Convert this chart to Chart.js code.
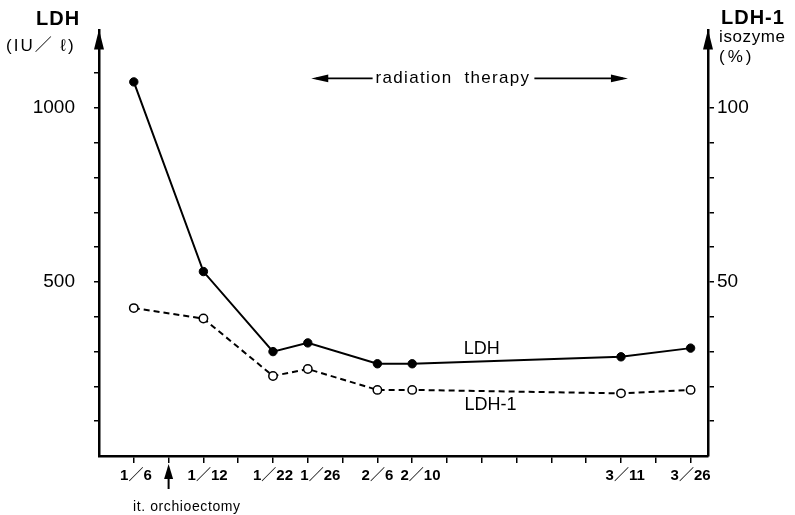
<!DOCTYPE html>
<html>
<head>
<meta charset="utf-8">
<script src="https://cdn.jsdelivr.net/npm/chart.js@4"></script>
<style>
html,body{margin:0;padding:0;background:#fff;}
#wrap{width:795px;height:515px;}
</style>
</head>
<body>
<div id="wrap"><canvas id="c" width="795" height="515"></canvas></div>
<script>
// ---- data ----
const dates    = ['1/6','1/12','1/22','1/26','2/6','2/10','3/11','3/26'];
const datePos  = [1, 3, 5, 6, 8, 9, 15, 17];          // position on the time axis (tick index)
const ldh      = [1075, 530, 300, 325, 265, 265, 285, 310];   // IU/l
const ldh1     = [42.5, 39.5, 23, 25, 19, 19, 18, 19];         // %
const ldhTickLabels  = [500, 1000];
const ldh1TickLabels = [50, 100];
const orchiectomyPos = 2;
const radiationFrom = 6.1, radiationTo = 15.2;

const FONT = '"Liberation Sans", "Noto Sans CJK JP", sans-serif';
const toWide = s => s.replace('/', '\uFF0F');
// leading spaces nudge crowded labels to the right, as in the original print
const labelNudge = {1: 1, 3: 2, 6: 6, 9: 4, 15: 2, 17: 0};

const ldhPts  = datePos.map((x, i) => ({x, y: ldh[i]}));
const ldh1Pts = datePos.map((x, i) => ({x, y: ldh1[i]}));

function arrowHead(ctx, x, y, dir, len, half) {
  ctx.beginPath();
  if (dir === 'up') { ctx.moveTo(x, y); ctx.lineTo(x - half, y + len); ctx.lineTo(x + half, y + len); }
  else if (dir === 'left') { ctx.moveTo(x, y); ctx.lineTo(x + len, y - half); ctx.lineTo(x + len, y + half); }
  else { ctx.moveTo(x, y); ctx.lineTo(x - len, y - half); ctx.lineTo(x - len, y + half); }
  ctx.closePath();
  ctx.fill();
}

const annot = {
  id: 'annot',
  afterDraw(chart) {
    const ctx = chart.ctx, a = chart.chartArea;
    const sx = chart.scales.x, sy = chart.scales.y, sy1 = chart.scales.y1;
    ctx.save();
    ctx.fillStyle = '#000'; ctx.strokeStyle = '#000';
    // axis arrowheads
    arrowHead(ctx, a.left, a.top - 1, 'up', 20, 5);
    arrowHead(ctx, a.right, a.top - 1, 'up', 20, 5);

    // axis titles
    ctx.textBaseline = 'middle';
    ctx.textAlign = 'left';
    ctx.font = 'bold 20px ' + FONT;
    ctx.letterSpacing = '1px';
    ctx.fillText('LDH', 36, 19);
    ctx.fillText('LDH-1', 721, 18);
    ctx.font = '17px ' + FONT;
    ctx.letterSpacing = '2px';
    ctx.fillText('(IU\uFF0F \u2113)', 6, 46);
    ctx.letterSpacing = '0.6px';
    ctx.fillText('isozyme', 719, 37);
    ctx.letterSpacing = '3px';
    ctx.fillText('(%)', 719, 57);

    // radiation therapy arrow
    const rx0 = sx.getPixelForValue(radiationFrom), rx1 = sx.getPixelForValue(radiationTo);
    const ry = sy.getPixelForValue(1085);
    ctx.font = '17px ' + FONT;
    ctx.letterSpacing = '1.3px';
    const txt = 'radiation  therapy';
    const tw = ctx.measureText(txt).width;
    const tc = 453;
    ctx.textAlign = 'center';
    ctx.fillText(txt, tc, ry);
    ctx.letterSpacing = '0px';
    ctx.lineWidth = 1.6;
    ctx.beginPath();
    ctx.moveTo(rx0 + 5, ry); ctx.lineTo(tc - tw / 2 - 3, ry);
    ctx.moveTo(tc + tw / 2 + 4, ry); ctx.lineTo(rx1 - 5, ry);
    ctx.stroke();
    arrowHead(ctx, rx0, ry, 'left', 17, 3.8);
    arrowHead(ctx, rx1, ry, 'right', 17, 3.8);

    // series labels
    ctx.font = '18px ' + FONT;
    ctx.textAlign = 'center';
    ctx.fillText('LDH', sx.getPixelForValue(11.0), sy.getPixelForValue(306));
    ctx.fillText('LDH-1', sx.getPixelForValue(11.25), sy1.getPixelForValue(14.7));

    // orchiectomy arrow
    const ox = sx.getPixelForValue(orchiectomyPos);
    ctx.lineWidth = 2;
    ctx.beginPath(); ctx.moveTo(ox, a.bottom + 20); ctx.lineTo(ox, a.bottom + 33); ctx.stroke();
    arrowHead(ctx, ox, a.bottom + 8, 'up', 15, 4.5);
    ctx.font = '14px ' + FONT;
    ctx.letterSpacing = '0.6px';
    ctx.textAlign = 'left';
    ctx.fillText('it. orchioectomy', 133, 507);
    ctx.restore();
  }
};

new Chart(document.getElementById('c'), {
  type: 'line',
  data: {
    datasets: [
      {
        label: 'LDH', data: ldhPts, yAxisID: 'y',
        borderColor: '#000', borderWidth: 2, backgroundColor: '#000',
        pointRadius: 4.2, pointBackgroundColor: '#000', pointBorderColor: '#000', pointBorderWidth: 1,
        tension: 0
      },
      {
        label: 'LDH-1', data: ldh1Pts, yAxisID: 'y1',
        borderColor: '#000', borderWidth: 2, borderDash: [6, 4],
        pointRadius: 4.2, pointBackgroundColor: '#fff', pointBorderColor: '#000', pointBorderWidth: 1.5,
        tension: 0
      }
    ]
  },
  options: {
    responsive: false, animation: false,
    layout: { padding: { top: 28, left: 0, right: 0, bottom: 0 } },
    plugins: { legend: { display: false }, tooltip: { enabled: false } },
    scales: {
      x: {
        type: 'linear', min: 0, max: 17.5,
        afterFit: s => { s.height = 59; },
        afterBuildTicks: s => { s.ticks = Array.from({length: 17}, (_, i) => ({value: i + 1})); },
        ticks: {
          stepSize: 1, autoSkip: false, maxRotation: 0, padding: 4, color: '#000',
          font: { family: FONT, size: 15, weight: 'bold' },
          callback: v => {
            const i = datePos.indexOf(Math.round(v));
            return i >= 0 ? ' '.repeat(labelNudge[datePos[i]] || 0) + toWide(dates[i]) : '';
          }
        },
        grid: { drawOnChartArea: false, color: '#000', tickLength: 7, lineWidth: 1.5 },
        border: { display: true, color: '#000', width: 2.5 }
      },
      y: {
        position: 'left', min: 0, max: 1223,
        afterFit: s => { s.width = 99; },
        afterBuildTicks: s => { s.ticks = s.ticks.filter(t => t.value > 0 && t.value <= 1100); },
        ticks: {
          stepSize: 100, autoSkip: false, padding: 19, color: '#000',
          font: { family: FONT, size: 19 },
          callback: v => ldhTickLabels.includes(v) ? String(v) : ''
        },
        grid: { drawOnChartArea: false, color: '#000', tickLength: 5, lineWidth: 1.5 },
        border: { display: true, color: '#000', width: 2.5 }
      },
      y1: {
        position: 'right', min: 0, max: 122.3,
        afterFit: s => { s.width = 87; },
        afterBuildTicks: s => { s.ticks = s.ticks.filter(t => t.value > 0 && t.value <= 100); },
        ticks: {
          stepSize: 10, autoSkip: false, padding: 3, color: '#000',
          font: { family: FONT, size: 19 },
          callback: v => ldh1TickLabels.includes(v) ? String(v) : ''
        },
        grid: { drawOnChartArea: false, color: '#000', tickLength: 6, lineWidth: 1.5 },
        border: { display: true, color: '#000', width: 2.5 }
      }
    }
  },
  plugins: [annot]
});
</script>
</body>
</html>
